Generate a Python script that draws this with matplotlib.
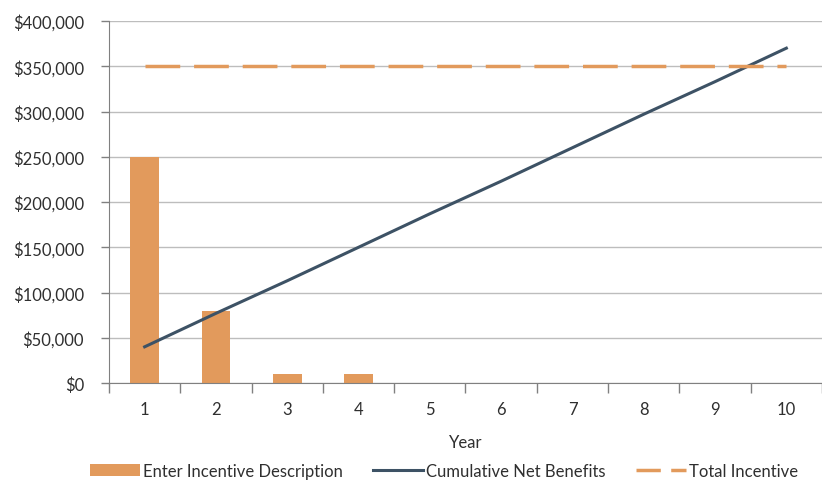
import matplotlib
matplotlib.use("Agg")
import matplotlib.pyplot as plt
from matplotlib.lines import Line2D
import numpy as np

years = [1, 2, 3, 4, 5, 6, 7, 8, 9, 10]
incentive = [250000, 80000, 10000, 10000, 0, 0, 0, 0, 0, 0]
cumulative = [40000, 77000, 113000, 150000, 187000, 223000, 260000, 297000, 333000, 370000]
total_incentive = [350000] * 10
yticks = [0, 50000, 100000, 150000, 200000, 250000, 300000, 350000, 400000]

plt.rcParams['font.family'] = ['Lato', 'DejaVu Sans']

orange = '#E29A5C'
slate = '#3D5265'
grid = '#BDBDBD'
txt = '#2F2F2F'

fig = plt.figure(figsize=(8.22, 4.85), dpi=100)
ax = fig.add_axes([0.1326, 0.2082, 0.8674, 0.7464])

h1 = ax.bar(years, incentive, width=0.4, color=orange, zorder=2, label='Enter Incentive Description')
h2, = ax.plot(years, cumulative, color=slate, lw=2.2, zorder=3, label='Cumulative Net Benefits')
ax.plot(years, total_incentive, color=orange, lw=2.5, dashes=(10, 4), zorder=3, label='Total Incentive')
h3 = Line2D([], [], color=orange, lw=2.5, dashes=(7, 3))

ax.set_xlim(0.5, 10.5)
ax.set_ylim(0, 400000)
ax.set_yticks(yticks)
ax.set_yticklabels([f"${v:,.0f}" for v in yticks], fontsize=12, color=txt)
ax.yaxis.grid(True, color=grid, lw=1, zorder=0)

ax.set_xticks(np.arange(0.5, 10.6, 1))
ax.set_xticklabels([])
ax.set_xticks(years, minor=True)
ax.set_xticklabels([str(y) for y in years], minor=True, fontsize=12, color=txt)
ax.tick_params(axis='x', which='major', length=7, color='#808080', width=1)
ax.tick_params(axis='x', which='minor', length=0, pad=13)
ax.tick_params(axis='y', length=6, color='#808080', width=1, pad=12)

for s in ['top', 'right']:
    ax.spines[s].set_visible(False)
ax.spines['left'].set_color('#808080')
ax.spines['bottom'].set_color('#808080')

ax.set_xlabel('Year', fontsize=12, color=txt, labelpad=12)

fig.legend(handles=[h1, h2, h3], labels=['Enter Incentive Description', 'Cumulative Net Benefits', 'Total Incentive'],
           loc='lower center', bbox_to_anchor=(0.54, -0.02), ncol=3, frameon=False,
           fontsize=12, handlelength=3.0, columnspacing=1.8, handletextpad=0.2,
           labelcolor=txt)

fig.savefig('out.png', dpi=100)
